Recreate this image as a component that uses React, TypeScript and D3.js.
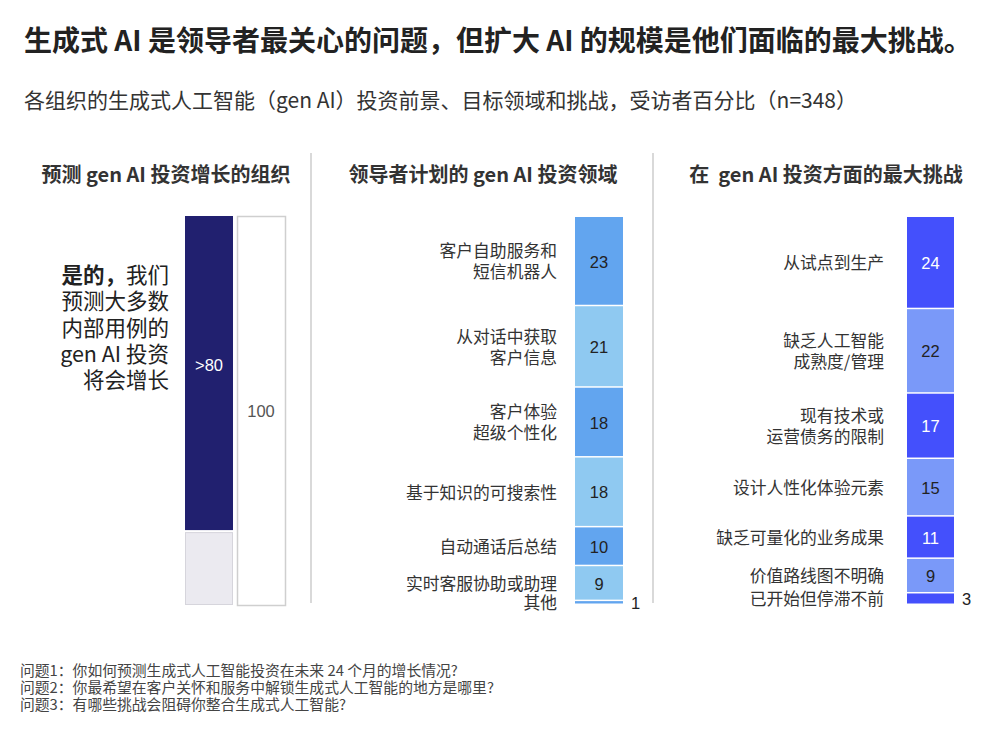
import React from 'react';
import * as d3 from 'd3';

// data
const growthLabels = ['是的', '否'];
const growthValues = [81, 19];
const growthValueText = '>80';
const growthTotal = 100;

const areaLabels = [
  '客户自助服务和\n短信机器人',
  '从对话中获取\n客户信息',
  '客户体验\n超级个性化',
  '基于知识的可搜索性',
  '自动通话后总结',
  '实时客服协助或助理',
  '其他',
];
const areaValues = [23, 21, 18, 18, 10, 9, 1];

const challengeLabels = [
  '从试点到生产',
  '缺乏人工智能\n成熟度/管理',
  '现有技术或\n运营债务的限制',
  '设计人性化体验元素',
  '缺乏可量化的业务成果',
  '价值路线图不明确',
  '已开始但停滞不前',
];
const challengeValues = [24, 22, 17, 15, 11, 9, 3];

const footnotes = [
  '问题1：你如何预测生成式人工智能投资在未来 24 个月的增长情况?',
  '问题2：你最希望在客户关怀和服务中解锁生成式人工智能的地方是哪里?',
  '问题3：有哪些挑战会阻碍你整合生成式人工智能?',
];

const CJK = '"Noto Sans CJK SC", "Noto Sans", sans-serif';
const NUM = '"Liberation Sans", Arial, sans-serif';

const barTop = 217;
const barBottom = 605;

function stack(values: number[]) {
  let acc = 0;
  return values.map((v) => {
    const s = acc;
    acc += v;
    return { start: s, end: acc, value: v };
  });
}

function StackPanel({ labels, values, x0, barW, labelX, colors, textColors }: any) {
  const total = d3.sum(values);
  const y = d3.scaleLinear().domain([0, total]).range([barTop, barBottom]);
  const segs = stack(values);
  return (
    <g>
      {segs.map((s, i) => {
        const y0 = y(s.start);
        const y1 = y(s.end);
        const mid = (y0 + y1) / 2;
        const lines = labels[i].split('\n');
        const lh = 21;
        const small = s.value < 5;
        return (
          <g key={i}>
            <rect x={x0} y={y0} width={barW} height={Math.max(1, y1 - y0 - 1.5)} fill={colors[i % 2]} />
            {lines.map((ln: string, j: number) => (
              <text key={j} x={labelX} y={mid + (j - (lines.length - 1) / 2) * lh} dy="0.36em"
                textAnchor="end" fontFamily={CJK} fontSize={16.8} fill="#333">{ln}</text>
            ))}
            <text x={small ? x0 + barW + 8 : x0 + barW / 2} y={mid} dy="0.36em"
              textAnchor={small ? 'start' : 'middle'} fontFamily={NUM} fontSize={16.5}
              fill={small ? '#222' : textColors[i % 2]}>{s.value}</text>
          </g>
        );
      })}
    </g>
  );
}

export default function App() {
  const yg = d3.scaleLinear().domain([0, growthTotal]).range([216, 605]);
  const gs = stack(growthValues);
  const p1Lines = ['预测大多数', '内部用例的', 'gen AI 投资', '将会增长'];
  return (
    <svg width={1000} height={730} style={{ position: 'absolute', left: 0, top: 0, background: '#fff' }}>
      <text x={24} y={51} fontFamily={CJK} fontSize={28} fontWeight={700} fill="#222">
        生成式 AI 是领导者最关心的问题，但扩大 AI 的规模是他们面临的最大挑战。
      </text>
      <text x={24} y={108} fontFamily={CJK} fontSize={21} fill="#333">
        各组织的生成式人工智能（gen AI）投资前景、目标领域和挑战，受访者百分比（n=348）
      </text>

      {/* panel titles */}
      <text x={166} y={182} textAnchor="middle" fontFamily={CJK} fontSize={20} fontWeight={700} fill="#333">预测 gen AI 投资增长的组织</text>
      <text x={483} y={182} textAnchor="middle" fontFamily={CJK} fontSize={20} fontWeight={700} fill="#333">领导者计划的 gen AI 投资领域</text>
      <text x={826} y={182} textAnchor="middle" fontFamily={CJK} fontSize={20} fontWeight={700} fill="#333"
        style={{ whiteSpace: 'pre' }}>{'在  gen AI 投资方面的最大挑战'}</text>

      <line x1={311} x2={311} y1={153} y2={603} stroke="#ccc" strokeWidth={1.5} />
      <line x1={653} x2={653} y1={153} y2={603} stroke="#ccc" strokeWidth={1.5} />

      {/* panel 1 */}
      <text x={169} y={275} dy="0.36em" textAnchor="end" fontFamily={CJK} fontSize={21.5} fill="#222">
        <tspan fontWeight={700}>{growthLabels[0]}，</tspan>我们
      </text>
      {p1Lines.map((ln, i) => (
        <text key={i} x={169} y={275 + (i + 1) * 26.4} dy="0.36em" textAnchor="end" fontFamily={CJK} fontSize={21.5} fill="#222">{ln}</text>
      ))}
      <rect x={185} y={yg(gs[0].start)} width={48} height={yg(gs[0].end) - yg(gs[0].start) - 1} fill="#21206f" />
      <rect x={185.5} y={yg(gs[1].start) + 1.5} width={47} height={yg(gs[1].end) - yg(gs[1].start) - 2} fill="#ebeaf0" stroke="#d6d5dc" strokeWidth={1} />
      <rect x={237.5} y={yg(0) + 0.5} width={48} height={yg(growthTotal) - yg(0)} fill="#fff" stroke="#cfcfcf" strokeWidth={1.5} />
      <text x={209} y={365} dy="0.36em" textAnchor="middle" fontFamily={NUM} fontSize={16.5} fill="#fff">{growthValueText}</text>
      <text x={261} y={411} dy="0.36em" textAnchor="middle" fontFamily={NUM} fontSize={16.5} fill="#555">{growthTotal}</text>

      <StackPanel labels={areaLabels} values={areaValues} x0={575} barW={48} labelX={557}
        colors={['#62a5ef', '#8fc9f1']} textColors={['#222', '#222']} />
      <StackPanel labels={challengeLabels} values={challengeValues} x0={907} barW={47} labelX={884}
        colors={['#4450fc', '#7a99f9']} textColors={['#fff', '#222']} />

      {footnotes.map((f, i) => (
        <text key={i} x={20} y={671 + i * 17} dy="0.36em" fontFamily={CJK} fontSize={14.8} fill="#444">{f}</text>
      ))}
    </svg>
  );
}
